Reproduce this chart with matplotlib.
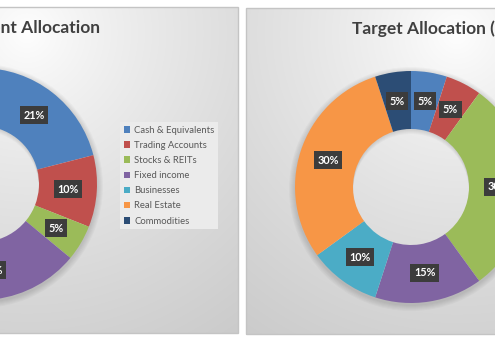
import numpy as np
import matplotlib
matplotlib.use('Agg')
import matplotlib.pyplot as plt
from matplotlib.patches import Rectangle, Wedge

categories = ['Cash & Equivalents', 'Trading Accounts', 'Stocks & REITs',
              'Fixed income', 'Businesses', 'Real Estate', 'Commodities']
current_pct = [21, 10, 5, 24, 10, 25, 5]
target_pct = [5, 5, 30, 15, 10, 30, 5]
colors = ['#4f81bd', '#c0504d', '#9bbb59', '#8064a2', '#4bacc6', '#f79646', '#2c4d75']

W, H = 495, 342
plt.rcParams['font.family'] = ['Lato', 'DejaVu Sans']

fig = plt.figure(figsize=(W / 100, H / 100), dpi=100)
ax = fig.add_axes([0, 0, 1, 1])


def panel(x0, x1, y0, y1):
    # grey radial fill, lightest just under the title
    w, h = int(x1 - x0), int(y1 - y0)
    xx, yy = np.meshgrid(np.arange(w) + 0.5, np.arange(h) + 0.5)
    d = np.hypot(xx - w / 2, yy - 0.08 * h) / 380
    v = 1.0 - 0.21 * np.clip(d, 0, 1) ** 0.8
    img = np.dstack([v, v, v])
    ax.imshow(img, extent=(x0, x1, H - y1, H - y0), origin='upper',
              interpolation='bilinear', zorder=0)
    ax.add_patch(Rectangle((x0, H - y1), x1 - x0, y1 - y0, fill=False,
                           ec='#c4c4c4', lw=1, zorder=1))


def donut(values, cx, cy, R, ring):
    cy = H - cy
    r = R - ring
    # soft shadow below the ring, and the ring's shadow falling into the hole
    for k in range(1, 7):
        ax.add_patch(Wedge((cx, cy - 2), R + k, 0, 360, width=k + 4,
                           color='black', alpha=0.022, lw=0, zorder=2))
    for k in range(5):
        ax.add_patch(Wedge((cx, cy - 1 - k), r + 12, 0, 360, width=12,
                           color='black', alpha=0.025, lw=0, zorder=2))
    wedges, _ = ax.pie(values, colors=colors, startangle=90, counterclock=False,
                       radius=R, center=(cx, cy),
                       wedgeprops=dict(width=ring, edgecolor='none'))
    for wd in wedges:
        wd.set_zorder(3)
    mid = R - ring / 2
    for wd, v in zip(wedges, values):
        ang = np.deg2rad((wd.theta1 + wd.theta2) / 2)
        ax.text(cx + mid * np.cos(ang), cy + mid * np.sin(ang), f'{v}%',
                ha='center', va='center', color='white', fontsize=7.8,
                fontweight='bold', zorder=4,
                bbox=dict(boxstyle='square,pad=0.32', fc='#3c3c3c', ec='none'))
    return wedges


panel(-184, 238, 7, 333)
panel(246, 668, 8, 334)

left_wedges = donut(current_pct, -19, 184, 116, 58)
donut(target_pct, 411, 187, 116, 58)

ax.text(100, H - 33, 'Current Allocation', ha='right', va='baseline',
        fontsize=12.5, fontweight='bold', color='#404040', zorder=4)
ax.text(352, H - 34, 'Target Allocation (%)', ha='left', va='baseline',
        fontsize=12.5, fontweight='bold', color='#404040', zorder=4)

leg = ax.legend(left_wedges, categories, loc='upper left',
                bbox_to_anchor=(120, H - 122), bbox_transform=ax.transData,
                frameon=True, fancybox=False, facecolor='#ebebeb',
                edgecolor='none', framealpha=1, fontsize=6.8,
                handlelength=0.7, handleheight=0.7, handletextpad=0.4,
                labelspacing=0.65, borderpad=0.4, borderaxespad=0)
leg.set_zorder(5)
for t in leg.get_texts():
    t.set_color('#595959')

ax.set_xlim(0, W)
ax.set_ylim(0, H)
ax.set_aspect('auto')
ax.axis('off')

fig.savefig('out.png', dpi=100, facecolor='white')
plt.close(fig)
